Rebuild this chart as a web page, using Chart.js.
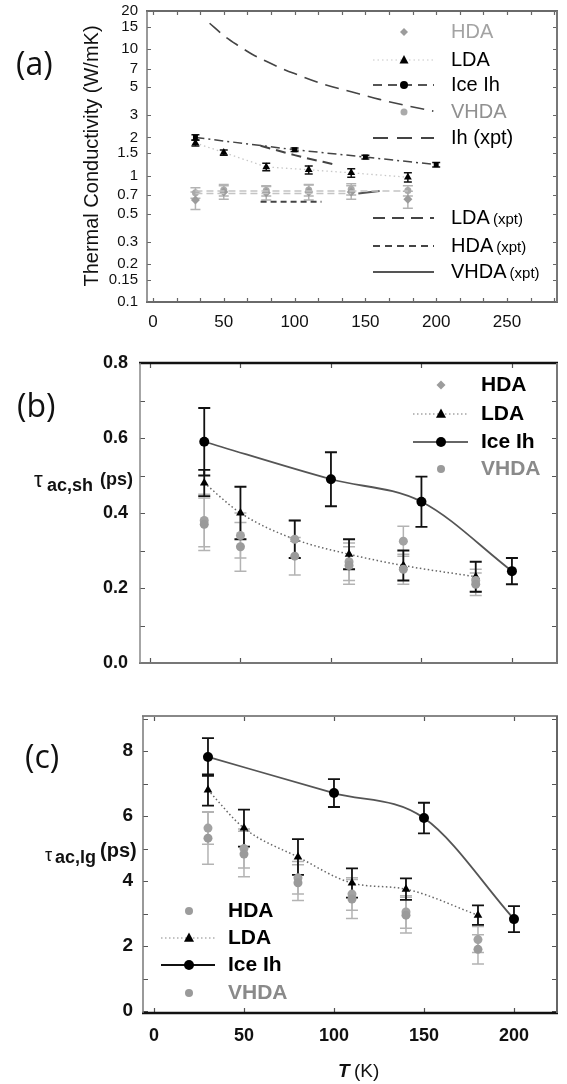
<!DOCTYPE html>
<html><head><meta charset="utf-8">
<script src="https://cdn.jsdelivr.net/npm/chart.js@4.4.1/dist/chart.umd.min.js"></script>
<style>
html,body{margin:0;padding:0;background:#fff;width:567px;height:1084px;overflow:hidden}
canvas{position:absolute;left:0}
</style></head><body>
<canvas id="ca" width="567" height="345" style="top:0px"></canvas>
<canvas id="cb" width="567" height="345" style="top:345px"></canvas>
<canvas id="cc" width="567" height="394" style="top:690px"></canvas>
<script>
// ================= DATA =================
// Panel (a): thermal conductivity (W/mK)
const tempsA    = [30, 50, 80, 110, 140, 180];
const hdaA      = [0.64, 0.74, 0.73, 0.74, 0.74, 0.65];
const hdaErrA   = [0.10, 0.09, 0.09, 0.10, 0.09, 0.10];
const vhdaA     = [0.73, 0.77, 0.76, 0.77, 0.78, 0.76];
const vhdaErrA  = [0.07, 0.08, 0.07, 0.08, 0.08, 0.07];
const ldaA      = [1.81, 1.52, 1.17, 1.11, 1.05, 0.97];
const ldaErrA   = [0.10, 0.07, 0.08, 0.08, 0.08, 0.08];
const tempsIceA = [30, 100, 150, 200];
const iceA      = [2.00, 1.60, 1.40, 1.22];
const iceErrA   = [0.10, 0.05, 0.05, 0.05];
const tempsIhXpt  = [40, 50, 60, 70, 80, 90, 100, 120, 140, 160, 180, 198];
const ihXpt       = [16.0, 12.8, 10.7, 9.1, 8.0, 7.1, 6.4, 5.3, 4.6, 4.0, 3.55, 3.23];
const tempsLdaXpt = [76, 100, 130];
const ldaXpt      = [1.72, 1.45, 1.21];
const tempsHdaXpt = [76, 119];
const hdaXpt      = [0.62, 0.62];
const tempsVhdaXpt = [145, 160];
const vhdaXpt      = [0.72, 0.755];
const tempsFitHi = [30, 180];
const fitHi      = [0.755, 0.755];
const tempsFitLo = [30, 140];
const fitLo      = [0.72, 0.72];
const yTicksA = [0.1, 0.15, 0.2, 0.3, 0.5, 0.7, 1, 1.5, 2, 3, 5, 7, 10, 15, 20];
const xTicksA = [0, 50, 100, 150, 200, 250];

// Panel (b): tau_ac,sh (ps)
const tempsB   = [30, 50, 80, 110, 140, 180];
const hdaB     = [0.38, 0.34, 0.33, 0.27, 0.325, 0.22];
const hdaErrB  = [0.07, 0.06, 0.05, 0.05, 0.04, 0.03];
const vhdaB    = [0.37, 0.31, 0.285, 0.26, 0.25, 0.21];
const vhdaErrB = [0.07, 0.065, 0.05, 0.05, 0.04, 0.03];
const ldaB     = [0.48, 0.40, 0.33, 0.29, 0.26, 0.23];
const ldaErrB  = [0.035, 0.07, 0.05, 0.04, 0.04, 0.04];
const tempsIceB = [30, 100, 150, 200];
const iceB      = [0.59, 0.49, 0.43, 0.245];
const iceErrB   = [0.09, 0.072, 0.067, 0.035];
const yTicksB = [0, 0.2, 0.4, 0.6, 0.8];

// Panel (c): tau_ac,lg (ps)
const tempsC   = [30, 50, 80, 110, 140, 180];
const hdaC     = [5.63, 5.0, 4.1, 3.6, 3.05, 2.2];
const hdaErrC  = [0.5, 0.6, 0.5, 0.5, 0.5, 0.4];
const vhdaC    = [5.32, 4.83, 3.95, 3.45, 2.95, 1.9];
const vhdaErrC = [0.8, 0.7, 0.55, 0.6, 0.55, 0.45];
const ldaC     = [6.8, 5.63, 4.74, 3.94, 3.75, 2.95];
const ldaErrC  = [0.48, 0.57, 0.55, 0.45, 0.33, 0.3];
const tempsIceC = [30, 100, 150, 200];
const iceC      = [7.82, 6.71, 5.94, 2.83];
const iceErrC   = [0.58, 0.43, 0.47, 0.4];
const yTicksC = [0, 2, 4, 6, 8];
const xTicksC = [0, 50, 100, 150, 200];

// ================= HELPERS =================
const FONT = '"Liberation Sans", Arial, Helvetica, sans-serif';
const pts = (xs, ys) => xs.map((x, i) => ({x: x, y: ys[i]}));

function drawMarker(ctx, style, x, y, r, color) {
  ctx.save();
  ctx.fillStyle = color;
  ctx.beginPath();
  if (style === 'circle') { ctx.arc(x, y, r, 0, Math.PI * 2); }
  else if (style === 'triangle') {
    ctx.moveTo(x, y - r * 1.1); ctx.lineTo(x + r, y + r * 0.75); ctx.lineTo(x - r, y + r * 0.75); ctx.closePath();
  } else if (style === 'rectRot') {
    ctx.moveTo(x, y - r); ctx.lineTo(x + r, y); ctx.lineTo(x, y + r); ctx.lineTo(x - r, y); ctx.closePath();
  } else if (style === 'rect') { ctx.rect(x - r, y - r, 2 * r, 2 * r); }
  ctx.fill();
  ctx.restore();
}

const deco = {
  id: 'deco',
  beforeDatasetsDraw(chart) {
    const {ctx, scales: {x, y}} = chart;
    ctx.save();
    chart.data.datasets.forEach(ds => {
      if (!ds.err) return;
      ctx.strokeStyle = ds.errColor; ctx.lineWidth = ds.errWidth || 1.5;
      ds.data.forEach((p, i) => {
        const e = ds.err[i];
        const px = x.getPixelForValue(p.x);
        const y1 = y.getPixelForValue(p.y + e), y2 = y.getPixelForValue(p.y - e);
        const w = ds.capW || 6;
        ctx.beginPath();
        ctx.moveTo(px, y1); ctx.lineTo(px, y2);
        ctx.moveTo(px - w, y1); ctx.lineTo(px + w, y1);
        ctx.moveTo(px - w, y2); ctx.lineTo(px + w, y2);
        ctx.stroke();
      });
    });
    ctx.restore();
  },
  afterDraw(chart, args, o) {
    const {ctx, chartArea: a, scales: {x, y}} = chart;
    ctx.save();
    // inward ticks
    ctx.strokeStyle = o.tickColor || '#555'; ctx.lineWidth = 1.2;
    const tl = o.tickLen || 5;
    (o.yMarks || []).forEach(v => {
      const py = Math.round(y.getPixelForValue(v)) + 0.5;
      ctx.beginPath(); ctx.moveTo(a.left, py); ctx.lineTo(a.left + tl, py);
      ctx.moveTo(a.right, py); ctx.lineTo(a.right - tl, py); ctx.stroke();
    });
    (o.xMarks || []).forEach(v => {
      const px = Math.round(x.getPixelForValue(v)) + 0.5;
      ctx.beginPath(); ctx.moveTo(px, a.top); ctx.lineTo(px, a.top + tl);
      ctx.moveTo(px, a.bottom); ctx.lineTo(px, a.bottom - tl); ctx.stroke();
    });
    // frame
    const side = (x1, y1, x2, y2, s) => {
      ctx.strokeStyle = s[0]; ctx.lineWidth = s[1];
      ctx.beginPath(); ctx.moveTo(x1, y1); ctx.lineTo(x2, y2); ctx.stroke();
    };
    const f = o.frame;
    side(a.left - 1, a.top, a.right + 1, a.top, f.top);
    side(a.left - 1, a.bottom, a.right + 1, a.bottom, f.bottom);
    side(a.left, a.top, a.left, a.bottom, f.left);
    side(a.right, a.top, a.right, a.bottom, f.right);
    // legend
    if (o.legend) {
      const L = o.legend;
      L.rows.forEach((r, i) => {
        const yy = L.y[i];
        if (r.line) {
          ctx.strokeStyle = r.line.color; ctx.lineWidth = r.line.width;
          ctx.setLineDash(r.line.dash || []);
          ctx.beginPath(); ctx.moveTo(L.x0, yy); ctx.lineTo(L.x1, yy); ctx.stroke();
          ctx.setLineDash([]);
        }
        if (r.marker) drawMarker(ctx, r.marker.style, L.mx, yy, r.marker.r, r.marker.color);
        ctx.fillStyle = r.color; ctx.textBaseline = 'middle'; ctx.textAlign = 'left';
        ctx.font = L.font;
        ctx.fillText(r.label, L.tx, yy);
        if (r.sub) {
          const w = ctx.measureText(r.label).width;
          ctx.font = L.subFont;
          ctx.fillText(r.sub, L.tx + w + 3, yy + 2);
        }
      });
    }
    // free texts
    (o.texts || []).forEach(t => {
      ctx.save();
      ctx.font = t.font; ctx.fillStyle = t.color || '#111';
      ctx.textAlign = t.align || 'left'; ctx.textBaseline = t.baseline || 'alphabetic';
      ctx.translate(t.x, t.y);
      if (t.rot) ctx.rotate(t.rot);
      ctx.fillText(t.text, 0, 0);
      ctx.restore();
    });
    ctx.restore();
  }
};

function noPad(s) { s.paddingTop = 0; s.paddingBottom = 0; s.paddingLeft = 0; s.paddingRight = 0; }

function mk(id, o) {
  return new Chart(document.getElementById(id), {
    type: 'line',
    data: {datasets: o.datasets},
    options: {
      responsive: false, animation: false, devicePixelRatio: 1,
      layout: {padding: o.pad, autoPadding: false},
      plugins: {legend: {display: false}, tooltip: {enabled: false}, deco: o.deco},
      elements: {line: {fill: false}},
      scales: {
        x: {
          type: 'linear', min: o.xmin, max: o.xmax,
          grid: {display: false, drawTicks: false}, border: {display: false},
          ticks: {display: o.xLabels, font: o.xFont, color: '#111', padding: o.xPad,
                  maxRotation: 0, autoSkip: false, callback: v => String(v)},
          afterBuildTicks: s => { s.ticks = (o.xTicks || []).map(v => ({value: v})); },
          afterFit: s => { s.height = o.xH; noPad(s); }
        },
        y: {
          type: o.yType, min: o.ymin, max: o.ymax,
          grid: {display: false, drawTicks: false}, border: {display: false},
          ticks: {font: o.yFont, color: '#111', padding: o.yPad, autoSkip: false, callback: o.yFmt},
          afterBuildTicks: s => { s.ticks = o.yTicks.map(v => ({value: v})); },
          afterFit: s => { s.width = o.yW; noPad(s); }
        }
      }
    },
    plugins: [deco]
  });
}

const GRAY_M = '#9c9c9c', GRAY_E = '#b3b3b3';

// ================= PANEL (a) =================
const xMarksA = []; for (let v = 0; v <= 285; v += 50 / 3) xMarksA.push(v);
mk('ca', {
  pad: {left: 0, right: 10, top: 11, bottom: 0},
  xmin: -4.2, xmax: 285.3, xTicks: xTicksA, xLabels: true, xH: 43, xPad: 10,
  xFont: {family: FONT, size: 17},
  yType: 'logarithmic', ymin: 0.1, ymax: 20, yTicks: yTicksA, yW: 147, yPad: 9,
  yFont: {family: FONT, size: 15}, yFmt: v => String(v),
  datasets: [
    {label: 'fitHi', data: pts(tempsFitHi, fitHi), borderColor: '#c4c4c4', borderWidth: 1.5, borderDash: [7, 4], pointRadius: 0},
    {label: 'fitLo', data: pts(tempsFitLo, fitLo), borderColor: '#c4c4c4', borderWidth: 1.5, borderDash: [7, 4], pointRadius: 0},
    {label: 'HDA (xpt)', data: pts(tempsHdaXpt, hdaXpt), borderColor: '#444', borderWidth: 2, borderDash: [6, 4], pointRadius: 0},
    {label: 'LDA (xpt)', data: pts(tempsLdaXpt, ldaXpt), borderColor: '#444', borderWidth: 2, borderDash: [10, 6], pointRadius: 0, cubicInterpolationMode: 'monotone'},
    {label: 'VHDA (xpt)', data: pts(tempsVhdaXpt, vhdaXpt), borderColor: '#555', borderWidth: 2, pointRadius: 0},
    {label: 'Ih (xpt)', data: pts(tempsIhXpt, ihXpt), borderColor: '#444', borderWidth: 1.6, borderDash: [14, 8], pointRadius: 0, cubicInterpolationMode: 'monotone'},
    {label: 'HDA', data: pts(tempsA, hdaA), showLine: false, pointStyle: 'rectRot', pointRadius: 4.5, pointBackgroundColor: GRAY_M, pointBorderWidth: 0, err: hdaErrA, errColor: GRAY_E, capW: 5},
    {label: 'VHDA', data: pts(tempsA, vhdaA), showLine: false, pointStyle: 'circle', pointRadius: 3.5, pointBackgroundColor: '#aaaaaa', pointBorderWidth: 0, err: vhdaErrA, errColor: GRAY_E, capW: 5},
    {label: 'LDA', data: pts(tempsA, ldaA), borderColor: '#c8c8c8', borderWidth: 1.3, borderDash: [1.5, 3], pointStyle: 'triangle', pointRadius: 4.5, pointBackgroundColor: '#000', pointBorderColor: '#000', pointBorderWidth: 0, err: ldaErrA, errColor: '#111', capW: 4},
    {label: 'Ice Ih', data: pts(tempsIceA, iceA), borderColor: '#444', borderWidth: 1.5, borderDash: [9, 4, 2, 4], pointStyle: 'rect', pointRadius: 3.5, pointBackgroundColor: '#000', pointBorderWidth: 0, err: iceErrA, errColor: '#111', capW: 4}
  ],
  deco: {
    yMarks: yTicksA, xMarks: xMarksA, tickLen: 4, tickColor: '#666',
    frame: {top: ['#6a6a6a', 2], bottom: ['#6a6a6a', 2], left: ['#777', 1.5], right: ['#777', 2]},
    legend: {
      x0: 373, x1: 434, mx: 404, tx: 451,
      font: '20px ' + FONT, subFont: '15px ' + FONT,
      y: [32, 60, 85, 112, 138, 218, 246, 272],
      rows: [
        {label: 'HDA', color: '#a3a3a3', marker: {style: 'rectRot', r: 4, color: GRAY_M}},
        {label: 'LDA', color: '#000', marker: {style: 'triangle', r: 4.5, color: '#000'}, line: {color: '#c8c8c8', width: 1.2, dash: [1.5, 3]}},
        {label: 'Ice Ih', color: '#000', marker: {style: 'circle', r: 4, color: '#000'}, line: {color: '#555', width: 1.8, dash: [9, 6]}},
        {label: 'VHDA', color: '#909090', marker: {style: 'circle', r: 3.5, color: '#aaaaaa'}},
        {label: 'Ih (xpt)', color: '#000', line: {color: '#444', width: 1.8, dash: [15, 9]}},
        {label: 'LDA', sub: '(xpt)', color: '#000', line: {color: '#444', width: 1.8, dash: [12, 7]}},
        {label: 'HDA', sub: '(xpt)', color: '#000', line: {color: '#444', width: 1.8, dash: [7, 5]}},
        {label: 'VHDA', sub: '(xpt)', color: '#000', line: {color: '#555', width: 2}}
      ]
    },
    texts: [
      {text: '(a)', x: 16, y: 75, font: '32px "Open Sans", ' + FONT, color: '#111'},
      {text: 'Thermal Conductivity (W/mK)', x: 98, y: 156, font: '20px ' + FONT, color: '#111', align: 'center', baseline: 'alphabetic', rot: -Math.PI / 2}
    ]
  }
});

// ================= PANEL (b) =================
const yMarksB = []; for (let v = 0; v <= 0.801; v += 0.1) yMarksB.push(v);
mk('cb', {
  pad: {left: 0, right: 10, top: 18, bottom: 0},
  xmin: -5.5, xmax: 224.9, xTicks: [], xLabels: false, xH: 27, xPad: 0,
  xFont: {family: FONT, size: 16},
  yType: 'linear', ymin: 0, ymax: 0.8, yTicks: yTicksB, yW: 140, yPad: 12,
  yFont: {family: FONT, size: 18, weight: 'bold'}, yFmt: v => v.toFixed(1),
  datasets: [
    {label: 'VHDA', data: pts(tempsB, vhdaB), showLine: false, pointStyle: 'circle', pointRadius: 4.5, pointBackgroundColor: '#9a9a9a', pointBorderWidth: 0, err: vhdaErrB, errColor: GRAY_E},
    {label: 'HDA', data: pts(tempsB, hdaB), showLine: false, pointStyle: 'circle', pointRadius: 4.5, pointBackgroundColor: '#a2a2a2', pointBorderWidth: 0, err: hdaErrB, errColor: GRAY_E},
    {label: 'LDA', data: pts(tempsB, ldaB), borderColor: '#666', borderWidth: 1.5, borderDash: [1.5, 2.5], cubicInterpolationMode: 'monotone', pointStyle: 'triangle', pointRadius: 5, pointBackgroundColor: '#000', pointBorderWidth: 0, err: ldaErrB, errColor: '#111', errWidth: 1.8},
    {label: 'Ice Ih', data: pts(tempsIceB, iceB), borderColor: '#555', borderWidth: 1.8, cubicInterpolationMode: 'monotone', pointStyle: 'circle', pointRadius: 5, pointBackgroundColor: '#000', pointBorderWidth: 0, err: iceErrB, errColor: '#111', errWidth: 1.8}
  ],
  deco: {
    yMarks: yMarksB, xMarks: [0, 50, 100, 150, 200], tickLen: 5, tickColor: '#555',
    frame: {top: ['#111', 2.5], bottom: ['#777', 2], left: ['#888', 1.5], right: ['#777', 2]},
    legend: {
      x0: 413, x1: 468, mx: 441, tx: 481,
      font: 'bold 21px ' + FONT,
      y: [40, 69, 97, 124],
      rows: [
        {label: 'HDA', color: '#000', marker: {style: 'rectRot', r: 4.5, color: GRAY_M}},
        {label: 'LDA', color: '#000', marker: {style: 'triangle', r: 5, color: '#000'}, line: {color: '#777', width: 1.2, dash: [1.5, 2.5]}},
        {label: 'Ice Ih', color: '#000', marker: {style: 'circle', r: 5, color: '#000'}, line: {color: '#666', width: 2}},
        {label: 'VHDA', color: '#8a8a8a', marker: {style: 'circle', r: 4, color: '#9a9a9a'}}
      ]
    },
    texts: [
      {text: '(b)', x: 17, y: 72, font: '32px "Open Sans", ' + FONT, color: '#111'},
      {text: 'τ', x: 34, y: 142, font: '22px ' + FONT, color: '#111'},
      {text: 'ac,sh', x: 47, y: 146, font: 'bold 18px ' + FONT, color: '#111'},
      {text: '(ps)', x: 100, y: 140, font: 'bold 18px ' + FONT, color: '#111'}
    ]
  }
});

// ================= PANEL (c) =================
const yMarksC = []; for (let v = 0; v <= 9; v += 1) yMarksC.push(v);
mk('cc', {
  pad: {left: 0, right: 10, top: 26, bottom: 0},
  xmin: -6.1, xmax: 223.9, xTicks: xTicksC, xLabels: true, xH: 71, xPad: 12,
  xFont: {family: FONT, size: 18, weight: 'bold'},
  yType: 'linear', ymin: -0.06, ymax: 9.08, yTicks: yTicksC, yW: 143, yPad: 10,
  yFont: {family: FONT, size: 19, weight: 'bold'}, yFmt: v => String(v),
  datasets: [
    {label: 'VHDA', data: pts(tempsC, vhdaC), showLine: false, pointStyle: 'circle', pointRadius: 4.5, pointBackgroundColor: '#9a9a9a', pointBorderWidth: 0, err: vhdaErrC, errColor: GRAY_E},
    {label: 'HDA', data: pts(tempsC, hdaC), showLine: false, pointStyle: 'circle', pointRadius: 4.5, pointBackgroundColor: '#a2a2a2', pointBorderWidth: 0, err: hdaErrC, errColor: GRAY_E},
    {label: 'LDA', data: pts(tempsC, ldaC), borderColor: '#666', borderWidth: 1.5, borderDash: [1.5, 2.5], cubicInterpolationMode: 'monotone', pointStyle: 'triangle', pointRadius: 5, pointBackgroundColor: '#000', pointBorderWidth: 0, err: ldaErrC, errColor: '#111', errWidth: 1.8},
    {label: 'Ice Ih', data: pts(tempsIceC, iceC), borderColor: '#555', borderWidth: 1.8, cubicInterpolationMode: 'monotone', pointStyle: 'circle', pointRadius: 5, pointBackgroundColor: '#000', pointBorderWidth: 0, err: iceErrC, errColor: '#111', errWidth: 1.8}
  ],
  deco: {
    yMarks: yMarksC, xMarks: [0, 50, 100, 150, 200], tickLen: 5, tickColor: '#555',
    frame: {top: ['#888', 2], bottom: ['#111', 2.5], left: ['#777', 1.5], right: ['#666', 2]},
    legend: {
      x0: 161, x1: 215, mx: 189, tx: 228,
      font: 'bold 21px ' + FONT,
      y: [221, 248, 275, 303],
      rows: [
        {label: 'HDA', color: '#000', marker: {style: 'circle', r: 4, color: GRAY_M}},
        {label: 'LDA', color: '#000', marker: {style: 'triangle', r: 5, color: '#000'}, line: {color: '#888', width: 1.2, dash: [1.5, 2.5]}},
        {label: 'Ice Ih', color: '#000', marker: {style: 'circle', r: 5, color: '#000'}, line: {color: '#111', width: 2}},
        {label: 'VHDA', color: '#8a8a8a', marker: {style: 'circle', r: 4, color: '#9a9a9a'}}
      ]
    },
    texts: [
      {text: '(c)', x: 25, y: 78, font: '32px "Open Sans", ' + FONT, color: '#111'},
      {text: 'τ', x: 45, y: 171, font: '18px ' + FONT, color: '#111'},
      {text: 'ac,lg', x: 55, y: 173, font: 'bold 18px ' + FONT, color: '#111'},
      {text: '(ps)', x: 100, y: 167, font: 'bold 20px ' + FONT, color: '#111'},
      {text: 'T', x: 338, y: 387, font: 'italic bold 19px ' + FONT, color: '#111'},
      {text: '(K)', x: 354, y: 387, font: '19px ' + FONT, color: '#111'}
    ]
  }
});
</script>
</body></html>
